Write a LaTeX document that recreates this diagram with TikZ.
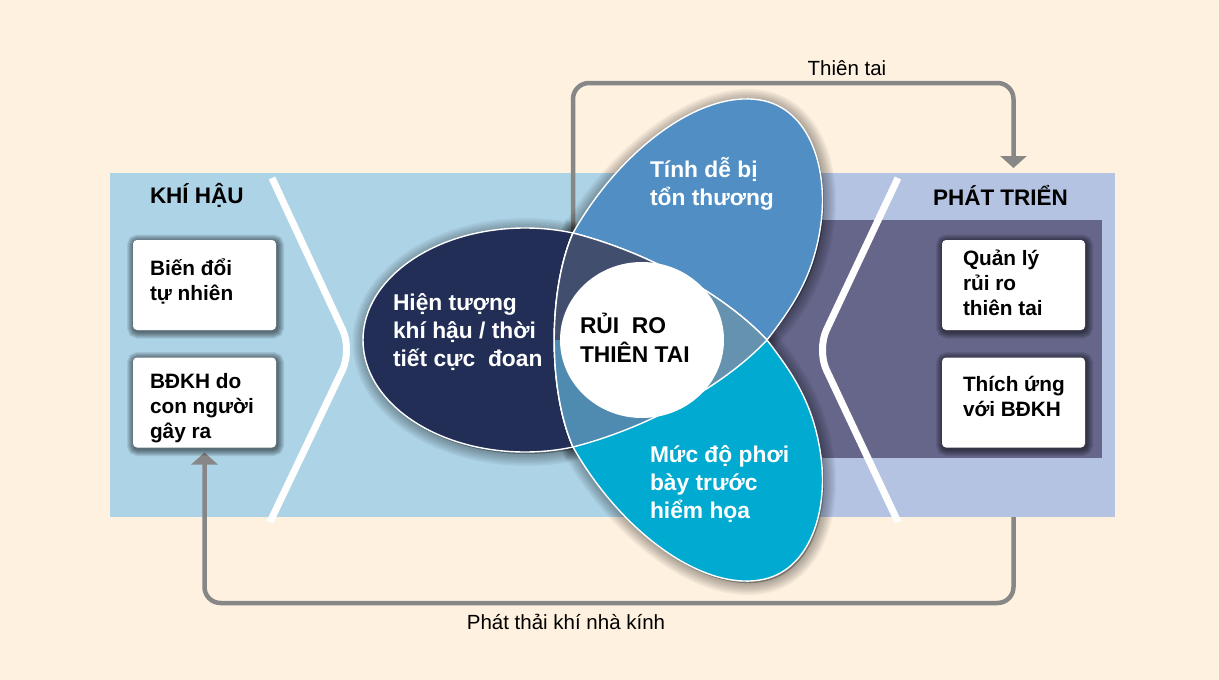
\documentclass[tikz,border=0pt]{standalone}
\usepackage{fontspec}
\setmainfont{Liberation Sans}
\usetikzlibrary{arrows.meta}
\definecolor{cream}{HTML}{FEF1E0}
\definecolor{panelL}{HTML}{ADD3E6}
\definecolor{panelR}{HTML}{B4C3E2}
\definecolor{darkR}{HTML}{65668A}
\definecolor{navy}{HTML}{232E56}
\definecolor{pBlue}{HTML}{508EC4}
\definecolor{pCyan}{HTML}{00AAD0}
\definecolor{lensTL}{HTML}{414E6E}
\definecolor{lensR}{HTML}{6592AE}
\definecolor{lensBL}{HTML}{4F8AB0}
\definecolor{cgrey}{HTML}{878787}
\newcommand\mylines[1]{\begin{tabular}[t]{@{}l@{}}#1\end{tabular}}
\pgfdeclarelayer{bg}
\pgfdeclarelayer{shd}
\pgfsetlayers{bg,shd,main}
\newcommand\softshadow[1]{%
  \begin{scope}[xshift=1.5pt,yshift=-2pt]
    \foreach \w in {3,6,9,12,15,18,21,24}{\draw[black,opacity=0.045,line width=\w pt] #1;}
    \fill[black,opacity=0.3] #1;
  \end{scope}}
\def\navypath{(525,340) ellipse (162 and 112)}
\def\bluepath{(A) .. controls (620,150) and (700,90) .. (760,100)
  .. controls (810,108) and (830,170) .. (820,230)
  .. controls (812,280) and (790,310) .. (P)
  .. controls (720,390) and (640,430) .. (B)
  .. controls (548,390) and (548,290) .. (A) -- cycle}
\def\cyanpath{(B) .. controls (620,530) and (700,590) .. (760,580)
  .. controls (810,572) and (830,510) .. (820,450)
  .. controls (812,400) and (790,370) .. (P)
  .. controls (720,290) and (640,250) .. (A)
  .. controls (548,290) and (548,390) .. (B) -- cycle}
\def\corepath{(A) .. controls (640,250) and (720,290) .. (P)
  .. controls (720,390) and (640,430) .. (B)
  .. controls (548,390) and (548,290) .. (A) -- cycle}
\begin{document}
\begin{tikzpicture}[x=1pt,y=-1pt,
  every node/.style={inner sep=0pt, outer sep=0pt},
  wbox/.style={fill=white, rounded corners=4pt, minimum width=143pt, minimum height=90pt},
  boxtxt/.style={anchor=base west, font=\bfseries\fontsize{20.8}{25}\selectfont, text=black},
  pettxt/.style={anchor=base west, font=\bfseries\fontsize{22.8}{28}\selectfont, text=white},
  ttl/.style={anchor=base west, font=\bfseries\fontsize{22.5}{25}\selectfont, text=black},
  lbl/.style={anchor=base, font=\fontsize{20.5}{22}\selectfont, text=black},
  conn/.style={draw=cgrey, line width=4.5pt, rounded corners=16pt, -{Triangle[width=26pt,length=12pt]}},
  chev/.style={draw=white, line width=7pt, rounded corners=22pt},
  petal/.style={draw=white, line width=1.4pt},
]
\useasboundingbox (0,0) rectangle (1219,680);
\coordinate (A) at (573,233);
\coordinate (P) at (767,340);
\coordinate (B) at (573,447);

\begin{pgfonlayer}{bg}
\fill[cream] (0,0) rectangle (1219,680);
% panels
\node[fill=panelL, minimum width=712pt, minimum height=344pt, anchor=north west] (panL) at (110,173) {};
\node[fill=panelR, minimum width=293pt, minimum height=344pt, anchor=north west] (panR) at (822,173) {};
\node[fill=darkR, minimum width=352pt, minimum height=238pt, anchor=north west] (darkband) at (750,220) {};
% chevrons
\draw[chev] (272,178) -- (352,350) -- (270,522);
\draw[chev] (898,178) -- (817,350) -- (898,522);
\end{pgfonlayer}

% titles
\node[ttl] (tKH) at (150,203) {KHÍ HẬU};
\node[ttl] (tPT) at (933,205) {PHÁT TRIỂN};

% boxes
\node[wbox] (lb1) at (204.5,285) {};
\node[wbox] (lb2) at (204.5,402.5) {};
\node[wbox] (rb1) at (1013.5,285) {};
\node[wbox] (rb2) at (1013.5,402.5) {};
\begin{pgfonlayer}{shd}
\foreach \b in {lb1,lb2,rb1,rb2}{
  \foreach \w in {2,4,6,8,10,12,14}{
    \draw[black, opacity=0.085, line width=\w pt, rounded corners=4pt]
      ([xshift=1pt,yshift=-1.5pt]\b.south west) rectangle ([xshift=1pt,yshift=-1.5pt]\b.north east);
  }
}
\end{pgfonlayer}
\node[boxtxt] (tlb1) at (150,275) {\mylines{Biến đổi\\tự nhiên}};
\node[boxtxt] (tlb2) at (150,388) {\mylines{BĐKH do\\con người\\gây ra}};
\node[boxtxt] (trb1) at (963,265) {\mylines{Quản lý\\rủi ro\\thiên tai}};
\node[boxtxt] (trb2) at (963,391) {\mylines{Thích ứng\\với BĐKH}};

% connectors
\coordinate (hz) at (573,300);
\coordinate (devtop) at (1013.5,168);
\begin{pgfonlayer}{bg}
\draw[conn] (hz) -- (573,83) -| (devtop);
\draw[conn] (rb2.south |- panR.south) -- ++(0,86) -| ([yshift=-5pt]lb2.south);
\end{pgfonlayer}
\node[lbl] (lThien) at (847,75) {Thiên tai};
\node[lbl] (lPhat) at (566,629) {Phát thải khí nhà kính};

% petal shadows
\begin{pgfonlayer}{shd}
\softshadow{\navypath}
\softshadow{\bluepath}
\softshadow{\cyanpath}
\end{pgfonlayer}

% petals
\path[fill=navy, petal] \navypath;
\path[fill=pBlue, petal] \bluepath;
\path[fill=pCyan, petal] \cyanpath;
\begin{scope}
  \clip \corepath;
  \fill[lensTL] (500,200) rectangle (800,480);
  \fill[lensR] (642,340) -- (835,110) -- (900,110) -- (900,570) -- (835,570) -- cycle;
  \fill[lensBL] (642,340) -- (835,570) -- (340,570) -- (340,340) -- cycle;
\end{scope}
\draw[petal] \corepath;
\fill[white] (642,340) ellipse (82 and 78);

% petal texts
\node[pettxt] (tHaz) at (393,310) {\mylines{Hiện tượng\\khí hậu / thời\\tiết cực\ \ đoan}};
\node[pettxt] (tVul) at (650,177) {\mylines{Tính dễ bị\\tổn thương}};
\node[pettxt] (tExp) at (650,462) {\mylines{Mức độ phơi\\bày trước\\hiểm họa}};
\node[anchor=base west, font=\bfseries\fontsize{22.8}{29}\selectfont, text=black] (tRisk) at (580,333) {\mylines{RỦI\ \ RO\\THIÊN TAI}};
\end{tikzpicture}
\end{document}
